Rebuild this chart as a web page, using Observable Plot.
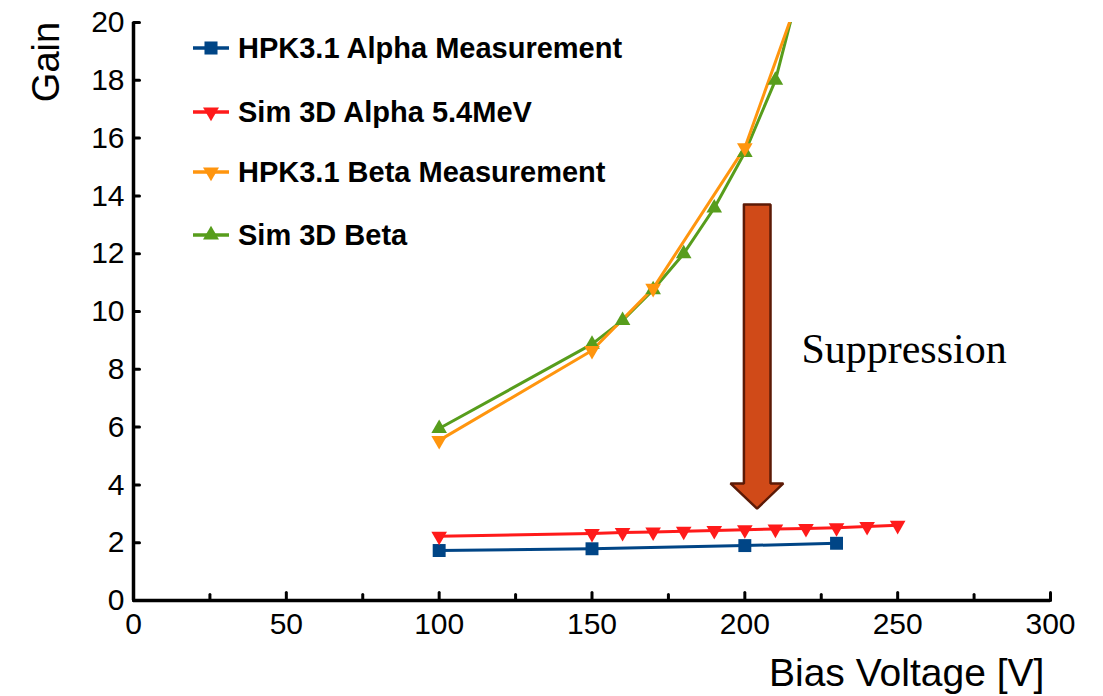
<!DOCTYPE html>
<html>
<head>
<meta charset="utf-8">
<script src="https://cdn.jsdelivr.net/npm/d3@7"></script>
<script src="https://cdn.jsdelivr.net/npm/@observablehq/plot@0.6"></script>
<style>
  html, body { margin: 0; padding: 0; background: #fff; }
  #wrap { position: relative; width: 1103px; height: 696px; overflow: hidden; }
  #wrap > svg { position: absolute; left: 0; top: 0; }
  .ovl { position: absolute; font-family: "Liberation Sans", Arial, sans-serif; color: #000; white-space: nowrap; }
  #gain { left: 46px; top: 62px; font-size: 38px; line-height: 1; transform: translate(-50%, -50%) rotate(-90deg); }
  #xlab { left: 769px; top: 653px; font-size: 39px; line-height: 1; }
  #legend { left: 193px; top: 30px; }
  .lrow { position: absolute; left: 0; display: flex; align-items: center; font-weight: bold; font-size: 29px; height: 36px; }
  .lrow svg { display: block; margin-right: 9px; }
</style>
</head>
<body>
<div id="wrap">
  <div class="ovl" id="gain">Gain</div>
  <div class="ovl" id="xlab">Bias Voltage [V]</div>
  <div class="ovl" id="legend"></div>
</div>
<script>
// ---- data ----
const alphaMeasV = [100, 150, 200, 230];
const alphaMeasGain = [1.73, 1.79, 1.90, 1.98];

const simAlphaV = [100, 150, 160, 170, 180, 190, 200, 210, 220, 230, 240, 250];
const simAlphaGain = [2.22, 2.32, 2.35, 2.37, 2.40, 2.42, 2.45, 2.47, 2.49, 2.52, 2.56, 2.60];

const betaMeasV = [100, 150, 170, 200, 220];
const betaMeasGain = [5.54, 8.65, 10.8, 15.67, 21.6];

const simBetaV = [100, 150, 160, 170, 180, 190, 200, 210, 220];
const simBetaGain = [5.95, 8.87, 9.69, 10.75, 12.0, 13.58, 15.5, 18.0, 22.1];

const seriesNames = ["HPK3.1 Alpha Measurement", "Sim 3D Alpha 5.4MeV", "HPK3.1 Beta Measurement", "Sim 3D Beta"];
const seriesColors = ["#004586", "#ff1a1a", "#ff950e", "#579d1c"];
const seriesSymbols = ["square", "triangle", "triangle", "triangle"];
const seriesRotate = [0, 180, 180, 0];

const xTicksMajor = [0, 50, 100, 150, 200, 250, 300];
const xTicksMinor = [25, 75, 125, 175, 225, 275];
const yTicks = [0, 2, 4, 6, 8, 10, 12, 14, 16, 18, 20];

// annotation arrow (data coordinates: bias voltage, gain)
const arrowX = [199.7, 208.4, 208.4, 212.6, 204.0, 195.3, 199.7, 199.7];
const arrowY = [13.7, 13.7, 4.05, 4.05, 3.18, 4.05, 4.05, 13.7];
const annotationText = ["Suppression"];
const annotationX = [218.5];
const annotationY = [8.7];

// ---- build tables ----
const zip = (xs, ys) => xs.map((x, i) => ({x, y: ys[i]}));
const series = [
  zip(alphaMeasV, alphaMeasGain),
  zip(simAlphaV, simAlphaGain),
  zip(betaMeasV, betaMeasGain),
  zip(simBetaV, simBetaGain)
];
const arrow = zip(arrowX, arrowY);
const annot = annotationText.map((t, i) => ({t, x: annotationX[i], y: annotationY[i]}));

const drawOrder = [0, 1, 3, 2];
const marks = [];
for (const i of drawOrder) {
  marks.push(Plot.line(series[i], {x: "x", y: "y", stroke: seriesColors[i], strokeWidth: 3, clip: "frame"}));
}
for (const i of drawOrder) {
  marks.push(Plot.dot(series[i].filter(d => d.y <= 20.3), {
    x: "x", y: "y", symbol: seriesSymbols[i], fill: seriesColors[i], stroke: "none",
    r: i === 0 ? 7.3 : 5.8, rotate: seriesRotate[i]
  }));
}

const tickShape = {draw(context, l) { context.moveTo(0, 0); context.lineTo(0, -l); }};

const chart = Plot.plot({
  width: 1103,
  height: 696,
  marginLeft: 133,
  marginRight: 53,
  marginTop: 22,
  marginBottom: 96,
  style: {background: "transparent", fontFamily: "'Liberation Sans', Arial, sans-serif"},
  x: {domain: [0, 300]},
  y: {domain: [0, 20]},
  marks: [
    Plot.axisX(xTicksMajor, {tickSize: 0, tickPadding: 12, fontSize: 30, label: null, fill: "#000"}),
    Plot.axisY(yTicks, {tickSize: 0, tickPadding: 9, fontSize: 30, label: null, fill: "#000"}),
    // arrow annotation
    Plot.line(arrow, {x: "x", y: "y", fill: "#d04a18", stroke: "#5c1a06", strokeWidth: 2.5, strokeLinejoin: "miter"}),
    Plot.text(annot, {x: "x", y: "y", text: "t", textAnchor: "start", fontSize: 42,
      fontFamily: "'Liberation Serif', 'DejaVu Serif', serif", fill: "#000"}),
    ...marks,
    // axis lines and inward ticks
    Plot.ruleY([0], {stroke: "#000", strokeWidth: 3.5}),
    Plot.ruleX([0], {stroke: "#000", strokeWidth: 3.5}),
    Plot.vector(xTicksMajor, {x: d => d, y: 0, length: 8, rotate: 0, anchor: "start", shape: tickShape, stroke: "#000", strokeWidth: 3}),
    Plot.vector(xTicksMinor, {x: d => d, y: 0, length: 6, rotate: 0, anchor: "start", shape: tickShape, stroke: "#000", strokeWidth: 3}),
    Plot.vector(yTicks, {x: 0, y: d => d, length: 6, rotate: 90, anchor: "start", shape: tickShape, stroke: "#000", strokeWidth: 3})
  ]
});
document.getElementById("wrap").prepend(chart);

// legend
const legend = document.getElementById("legend");
const rowTops = [0, 64, 124, 187];
seriesNames.forEach((name, i) => {
  const row = document.createElement("div");
  row.className = "lrow";
  row.style.top = rowTops[i] + "px";
  const s = d3.create("svg").attr("width", 36).attr("height", 36);
  s.append("line").attr("x1", 0).attr("x2", 36).attr("y1", 18).attr("y2", 18)
    .attr("stroke", seriesColors[i]).attr("stroke-width", 3.5);
  s.append("path")
    .attr("d", d3.symbol(seriesSymbols[i] === "square" ? d3.symbolSquare : d3.symbolTriangle, i === 0 ? 170 : 110)())
    .attr("transform", `translate(18,18) rotate(${seriesRotate[i]})`)
    .attr("fill", seriesColors[i]);
  row.appendChild(s.node());
  const t = document.createElement("span");
  t.textContent = name;
  row.appendChild(t);
  legend.appendChild(row);
});
</script>
</body>
</html>
